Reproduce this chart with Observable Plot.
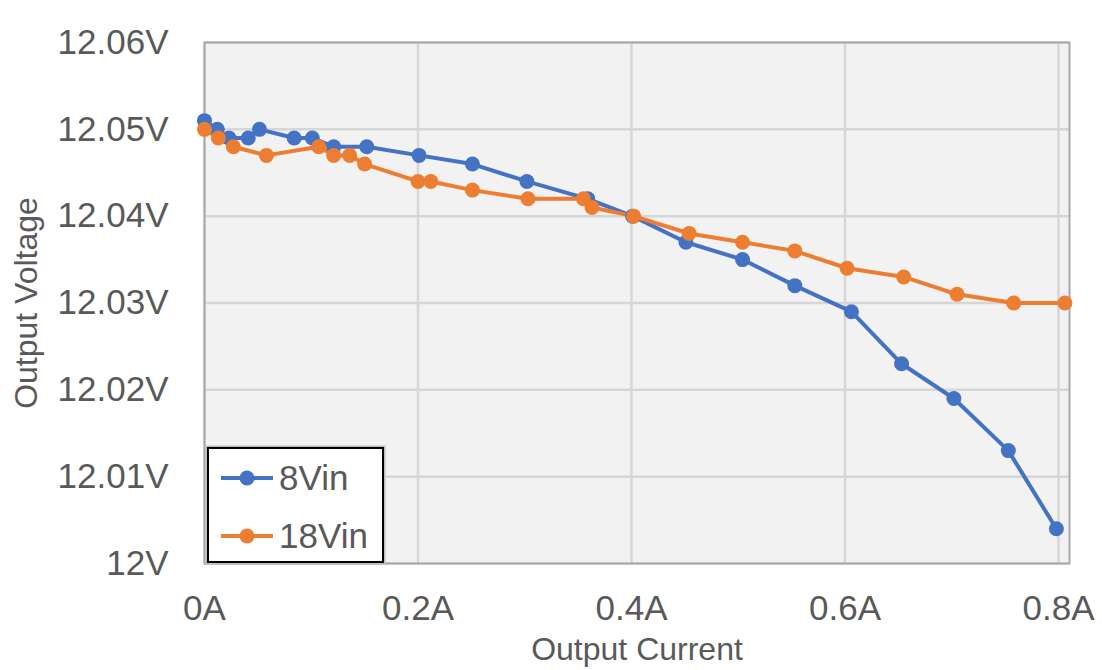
<!DOCTYPE html>
<html>
<head>
<meta charset="utf-8">
<script src="https://cdn.jsdelivr.net/npm/d3@7"></script>
<script src="https://cdn.jsdelivr.net/npm/@observablehq/plot@0.6"></script>
<style>
  html, body { margin: 0; padding: 0; background: #fff; }
  #wrap { position: relative; width: 1102px; height: 670px; font-family: "Liberation Sans", Arial, sans-serif; }
  #legend { position: absolute; left: 207px; top: 447px; width: 173px; height: 112px; background: #fff; border: 2px solid #000; box-shadow: 0 0 0 1.5px #bdbdbd; }
  .item { position: absolute; left: 0; height: 40px; display: flex; align-items: center; font-size: 35px; color: #595959; }
  .item svg { margin-left: 10px; margin-right: 4px; }
</style>
</head>
<body>
<div id="wrap"></div>
<script>
const seriesNames = ["8Vin", "18Vin"];
const seriesColors = ["#4472c4", "#ed7d31"];

const current8 = [0, 0.012, 0.023, 0.041, 0.0515, 0.084, 0.101, 0.121, 0.152, 0.201, 0.251, 0.302, 0.359, 0.401, 0.451, 0.504, 0.553, 0.606, 0.653, 0.702, 0.753, 0.798];
const volt8 = [12.051, 12.050, 12.049, 12.049, 12.050, 12.049, 12.049, 12.048, 12.048, 12.047, 12.046, 12.044, 12.042, 12.040, 12.037, 12.035, 12.032, 12.029, 12.023, 12.019, 12.013, 12.004];

const current18 = [0, 0.013, 0.027, 0.058, 0.107, 0.121, 0.136, 0.150, 0.200, 0.212, 0.251, 0.303, 0.355, 0.363, 0.402, 0.454, 0.504, 0.553, 0.602, 0.655, 0.705, 0.758, 0.806];
const volt18 = [12.050, 12.049, 12.048, 12.047, 12.048, 12.047, 12.047, 12.046, 12.044, 12.044, 12.043, 12.042, 12.042, 12.041, 12.040, 12.038, 12.037, 12.036, 12.034, 12.033, 12.031, 12.030, 12.030];

const xTicks = [0, 0.2, 0.4, 0.6, 0.8];
const yTicks = [12, 12.01, 12.02, 12.03, 12.04, 12.05, 12.06];
const xTitle = "Output Current";
const yTitle = "Output Voltage";

const data = [
  ...current8.map((c, i) => ({series: seriesNames[0], current: c, voltage: volt8[i]})),
  ...current18.map((c, i) => ({series: seriesNames[1], current: c, voltage: volt18[i]}))
];

const colorScale = {domain: seriesNames, range: seriesColors};

const chart = Plot.plot({
  width: 1102,
  height: 670,
  marginLeft: 204,
  marginRight: 33,
  marginTop: 42,
  marginBottom: 107,
  style: {background: "#fff", fontFamily: "'Liberation Sans', Arial, sans-serif", color: "#595959"},
  x: {domain: [0, 0.8103]},
  y: {domain: [12, 12.06]},
  color: colorScale,
  marks: [
    Plot.frame({fill: "#f2f2f2", stroke: null}),
    Plot.gridX(xTicks, {stroke: "#d6d6d6", strokeOpacity: 1, strokeWidth: 2.5}),
    Plot.gridY(yTicks, {stroke: "#d6d6d6", strokeOpacity: 1, strokeWidth: 2.5}),
    Plot.frame({stroke: "#a9a9a9", strokeWidth: 2}),
    Plot.axisX(xTicks, {tickSize: 0, tickPadding: 32, fontSize: 35, fill: "#595959", label: null,
      tickFormat: d => `${d}A`}),
    Plot.axisY(yTicks, {tickSize: 0, tickPadding: 36, fontSize: 35, fill: "#595959", label: null,
      tickFormat: d => `${+d.toFixed(2)}V`}),
    Plot.text([xTitle], {frameAnchor: "bottom", dy: 96, text: d => d, fontSize: 32, fill: "#595959", textAnchor: "middle"}),
    Plot.text([yTitle], {frameAnchor: "left", dx: -178, rotate: -90, text: d => d, fontSize: 32, fill: "#595959", textAnchor: "middle"}),
    Plot.line(data, {x: "current", y: "voltage", z: "series", stroke: "series", strokeWidth: 4}),
    Plot.dot(data, {x: "current", y: "voltage", fill: "series", r: 7.5, stroke: null})
  ]
});

const wrap = document.getElementById("wrap");
wrap.appendChild(chart);

const legend = document.createElement("div");
legend.id = "legend";
seriesNames.forEach((name, i) => {
  const item = document.createElement("div");
  item.className = "item";
  item.style.top = (i === 0 ? 9 : 67) + "px";
  item.innerHTML = `<svg width="56" height="20"><line x1="2" x2="54" y1="10" y2="10" stroke="${seriesColors[i]}" stroke-width="4"/><circle cx="28" cy="10" r="7.5" fill="${seriesColors[i]}"/></svg><span>${name}</span>`;
  legend.appendChild(item);
});
wrap.appendChild(legend);
</script>
</body>
</html>
